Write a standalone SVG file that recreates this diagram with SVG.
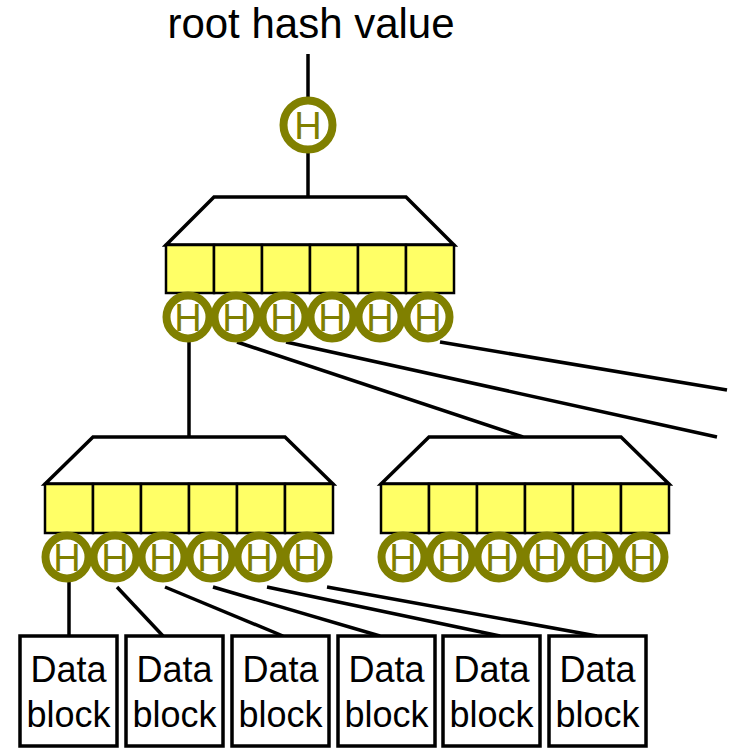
<svg xmlns="http://www.w3.org/2000/svg" width="731" height="748" viewBox="0 0 731 748">
<defs>
<style>
.ln{stroke:#000;stroke-width:3.5;fill:none;stroke-linecap:butt}
.trap{fill:#fff;stroke:#000;stroke-width:3.5;stroke-linejoin:miter}
.cell{fill:#FFFF66;stroke:#000;stroke-width:2.5}
.hc{fill:#fff;stroke:#808000;stroke-width:8}
.ht{font-family:"Liberation Sans",Arial,sans-serif;font-size:38px;fill:#808000;text-anchor:middle}
.blk{fill:#fff;stroke:#000;stroke-width:3.5}
.bt{font-family:"Liberation Sans",Arial,sans-serif;font-size:36px;fill:#000;text-anchor:middle}
.title{font-family:"Liberation Sans",Arial,sans-serif;font-size:42px;fill:#000;text-anchor:middle}
</style>
</defs>
<rect width="731" height="748" fill="#fff"/>
<g id="connectors">
<line class="ln" x1="308" y1="54" x2="308" y2="102"/>
<line class="ln" x1="308" y1="149" x2="308" y2="197"/>
<line class="ln" x1="189" y1="342" x2="189" y2="437"/>
<line class="ln" x1="237" y1="342" x2="523" y2="437"/>
<line class="ln" x1="286" y1="342" x2="717" y2="437"/>
<line class="ln" x1="440" y1="342" x2="727" y2="390"/>
<line class="ln" x1="69" y1="582" x2="69" y2="636"/>
<line class="ln" x1="117" y1="587" x2="163" y2="636"/>
<line class="ln" x1="165" y1="587" x2="283" y2="636"/>
<line class="ln" x1="213" y1="587" x2="380" y2="636"/>
<line class="ln" x1="267" y1="587" x2="500" y2="636"/>
<line class="ln" x1="327" y1="587" x2="597" y2="636"/>
</g>
<g id="root-label">
<text class="title" x="311" y="38">root hash value</text>
</g>
<g id="root-hash">
<circle class="hc" cx="308" cy="125" r="24.5"/>
<text class="ht" x="308" y="139">H</text>
</g>
<g id="node-top">
<polygon class="trap" points="214,197 406,197 454,245 166,245"/>
<rect class="cell" x="166" y="245" width="48" height="48"/>
<rect class="cell" x="214" y="245" width="48" height="48"/>
<rect class="cell" x="262" y="245" width="48" height="48"/>
<rect class="cell" x="310" y="245" width="48" height="48"/>
<rect class="cell" x="358" y="245" width="48" height="48"/>
<rect class="cell" x="406" y="245" width="48" height="48"/>
<circle class="hc" cx="188" cy="317" r="21.5"/>
<circle class="hc" cx="236" cy="317" r="21.5"/>
<circle class="hc" cx="284" cy="317" r="21.5"/>
<circle class="hc" cx="332" cy="317" r="21.5"/>
<circle class="hc" cx="380" cy="317" r="21.5"/>
<circle class="hc" cx="428" cy="317" r="21.5"/>
<text class="ht" x="188" y="331">H</text>
<text class="ht" x="236" y="331">H</text>
<text class="ht" x="284" y="331">H</text>
<text class="ht" x="332" y="331">H</text>
<text class="ht" x="380" y="331">H</text>
<text class="ht" x="428" y="331">H</text>
</g>
<g id="node-left">
<polygon class="trap" points="93,437 285,437 333,484 45,484"/>
<rect class="cell" x="45" y="484" width="48" height="49"/>
<rect class="cell" x="93" y="484" width="48" height="49"/>
<rect class="cell" x="141" y="484" width="48" height="49"/>
<rect class="cell" x="189" y="484" width="48" height="49"/>
<rect class="cell" x="237" y="484" width="48" height="49"/>
<rect class="cell" x="285" y="484" width="48" height="49"/>
<circle class="hc" cx="67" cy="557" r="21.5"/>
<circle class="hc" cx="115" cy="557" r="21.5"/>
<circle class="hc" cx="163" cy="557" r="21.5"/>
<circle class="hc" cx="211" cy="557" r="21.5"/>
<circle class="hc" cx="259" cy="557" r="21.5"/>
<circle class="hc" cx="307" cy="557" r="21.5"/>
<text class="ht" x="67" y="571">H</text>
<text class="ht" x="115" y="571">H</text>
<text class="ht" x="163" y="571">H</text>
<text class="ht" x="211" y="571">H</text>
<text class="ht" x="259" y="571">H</text>
<text class="ht" x="307" y="571">H</text>
</g>
<g id="node-right">
<polygon class="trap" points="429,437 621,437 669,484 381,484"/>
<rect class="cell" x="381" y="484" width="48" height="49"/>
<rect class="cell" x="429" y="484" width="48" height="49"/>
<rect class="cell" x="477" y="484" width="48" height="49"/>
<rect class="cell" x="525" y="484" width="48" height="49"/>
<rect class="cell" x="573" y="484" width="48" height="49"/>
<rect class="cell" x="621" y="484" width="48" height="49"/>
<circle class="hc" cx="403" cy="557" r="21.5"/>
<circle class="hc" cx="451" cy="557" r="21.5"/>
<circle class="hc" cx="499" cy="557" r="21.5"/>
<circle class="hc" cx="547" cy="557" r="21.5"/>
<circle class="hc" cx="595" cy="557" r="21.5"/>
<circle class="hc" cx="643" cy="557" r="21.5"/>
<text class="ht" x="403" y="571">H</text>
<text class="ht" x="451" y="571">H</text>
<text class="ht" x="499" y="571">H</text>
<text class="ht" x="547" y="571">H</text>
<text class="ht" x="595" y="571">H</text>
<text class="ht" x="643" y="571">H</text>
</g>
<g id="block1"><rect class="blk" x="20" y="636" width="97" height="110"/><text class="bt" x="68.5" y="682">Data</text><text class="bt" x="68.5" y="727">block</text></g>
<g id="block2"><rect class="blk" x="126" y="636" width="97" height="110"/><text class="bt" x="174.5" y="682">Data</text><text class="bt" x="174.5" y="727">block</text></g>
<g id="block3"><rect class="blk" x="232" y="636" width="97" height="110"/><text class="bt" x="280.5" y="682">Data</text><text class="bt" x="280.5" y="727">block</text></g>
<g id="block4"><rect class="blk" x="338" y="636" width="97" height="110"/><text class="bt" x="386.5" y="682">Data</text><text class="bt" x="386.5" y="727">block</text></g>
<g id="block5"><rect class="blk" x="443" y="636" width="97" height="110"/><text class="bt" x="491.5" y="682">Data</text><text class="bt" x="491.5" y="727">block</text></g>
<g id="block6"><rect class="blk" x="549" y="636" width="97" height="110"/><text class="bt" x="597.5" y="682">Data</text><text class="bt" x="597.5" y="727">block</text></g>
</svg>
